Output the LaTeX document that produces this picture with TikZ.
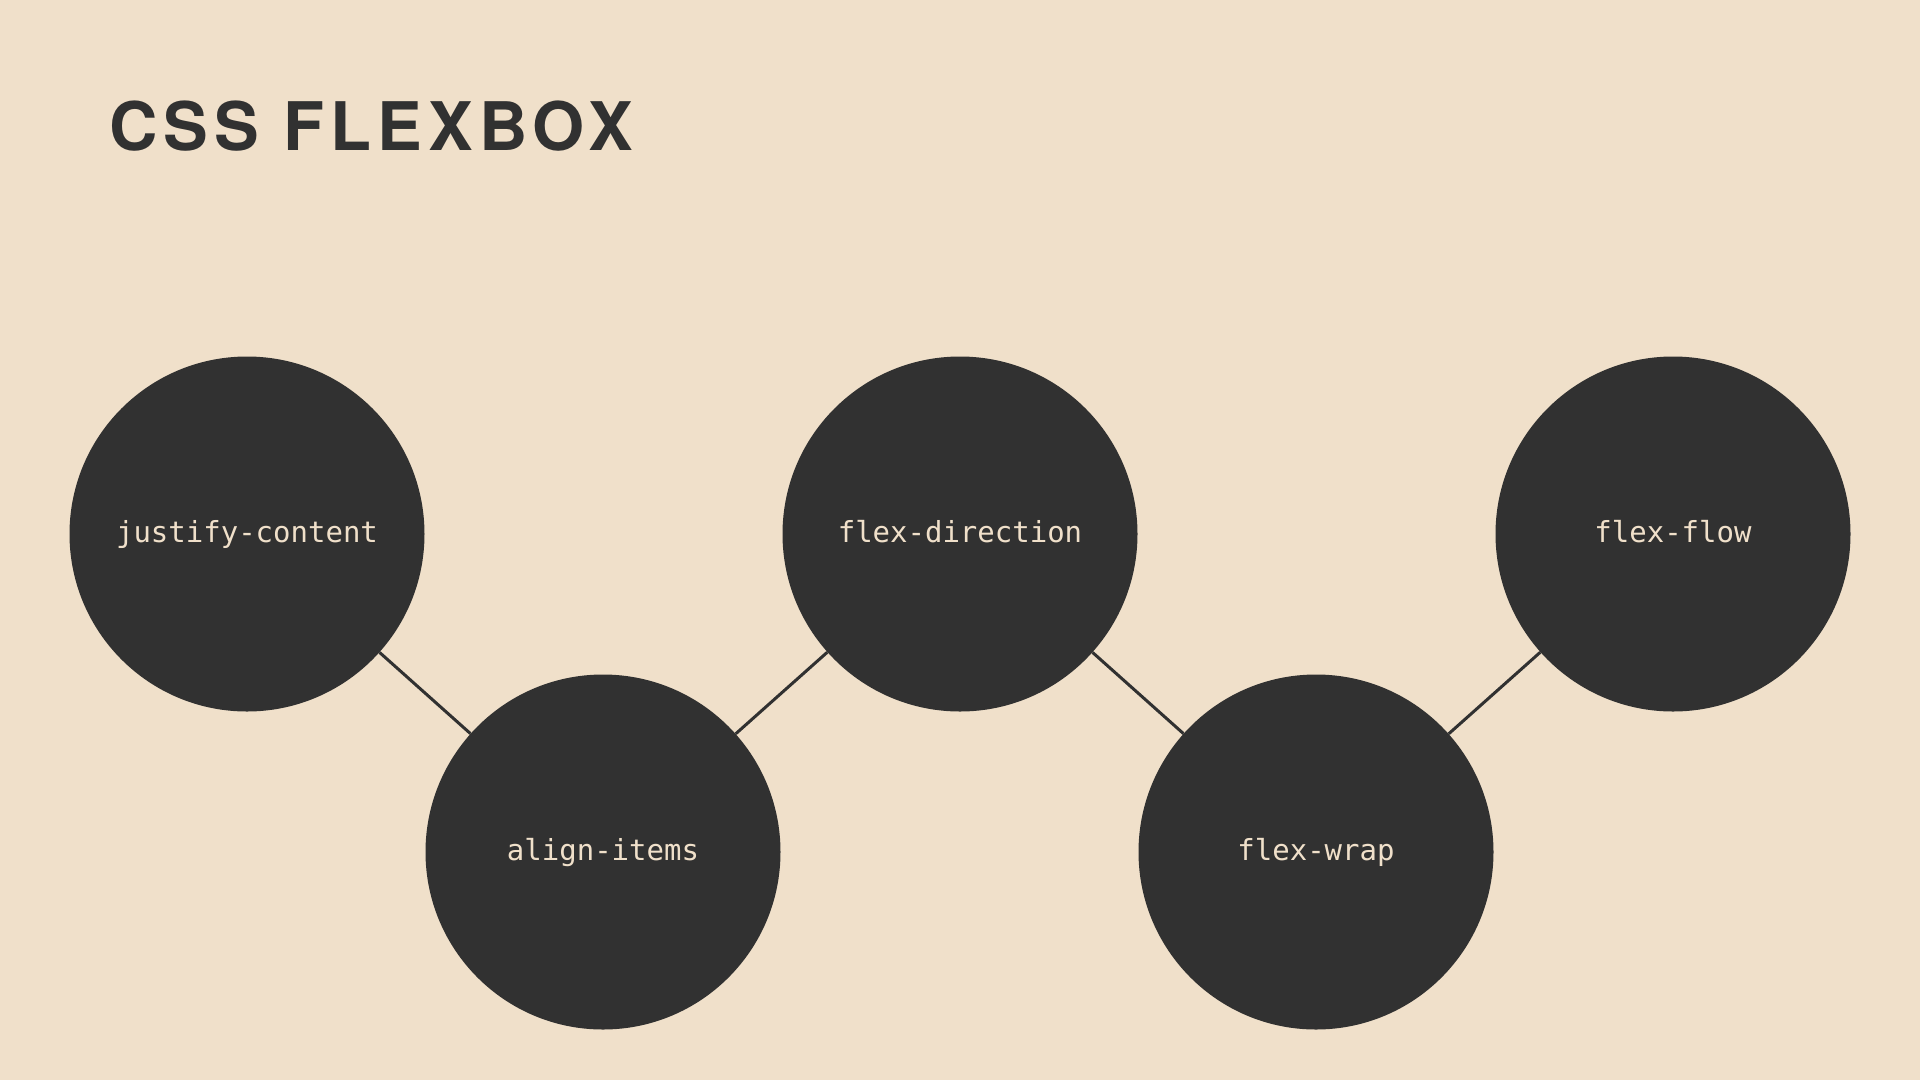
\documentclass[tikz,border=0pt]{standalone}
\usepackage{fontspec}
\newfontfamily\titlefont[LetterSpace=9]{TeX Gyre Heros}
\newfontfamily\labelfont{DejaVu Sans Mono}
\definecolor{bgbeige}{HTML}{F0E0CA}
\definecolor{darkgrey}{HTML}{313131}
\tikzset{
  bubble/.style={circle, fill=darkgrey, draw=none, minimum size=355pt, inner sep=0pt,
    text=bgbeige, font=\labelfont\fontsize{29}{34}\selectfont, text height=17pt, text depth=0pt},
  link/.style={draw=darkgrey, line width=3pt},
  titletext/.style={text=darkgrey, inner sep=0pt, anchor=base west, font=\titlefont\bfseries\fontsize{67}{76}\selectfont}
}
\begin{document}
\begin{tikzpicture}[x=1pt,y=-1pt]
\fill[bgbeige] (0,0) rectangle (1920,1080);
\useasboundingbox (0,0) rectangle (1920,1080);
\node[titletext] (title) at (109,150) {CSS FLEXBOX};
\node[bubble] (jc) at (247,534) {justify-content};
\node[bubble] (ai) at (603,852) {align-items};
\node[bubble] (fd) at (960,534) {flex-direction};
\node[bubble] (fw) at (1316,852) {flex-wrap};
\node[bubble] (ff) at (1673,534) {flex-flow};
\draw[link] (jc) -- (ai);
\draw[link] (ai) -- (fd);
\draw[link] (fd) -- (fw);
\draw[link] (fw) -- (ff);
\end{tikzpicture}
\end{document}
